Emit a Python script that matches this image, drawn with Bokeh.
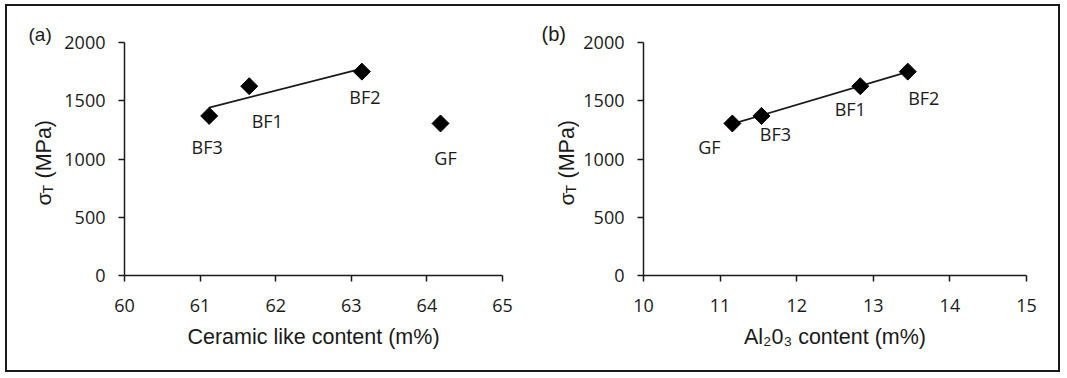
import numpy as np
from bokeh.plotting import figure
from bokeh.layouts import row
from bokeh.models import Range1d, FixedTicker, ColumnDataSource, Title
from bokeh.core.properties import value
from bokeh.embed import file_html
from bokeh.resources import INLINE

# ---- data ----
fibers = ["BF1", "BF2", "BF3", "GF"]
strength = [1625, 1750, 1370, 1305]          # sigma_T (MPa)
ceramic = [61.65, 63.14, 61.12, 64.18]       # ceramic like content (m%)
al2o3 = [12.83, 13.45, 11.54, 11.16]         # Al2O3 content (m%)

x1_ticks = [60, 61, 62, 63, 64, 65]
x2_ticks = [10, 11, 12, 13, 14, 15]
y_ticks = [0, 500, 1000, 1500, 2000]

# label offsets (screen px) — styling only
off1_x = [18, 3, -2, 5]
off1_y = [35, 25, 31, 35]
off2_x = [-10, 16, 14, -23]
off2_y = [23, 26, 18, 24]

TICK_FONT = "Open Sans"
TITLE_FONT = "Liberation Sans"
INK = "#1a1a1a"
H = 364
MBT = 36
MBB = 95
FH = H - MBT - MBB   # frame height in px


def make_panel(xvals, xticks, xlabel, offx, offy, fit_mask, width, mbl, mbr):
    p = figure(width=width, height=H, output_backend="svg", toolbar_location=None,
               x_range=Range1d(xticks[0], xticks[-1]), y_range=Range1d(0, 2000),
               min_border_left=mbl, min_border_right=mbr, min_border_top=MBT,
               min_border_bottom=MBB)
    p.outline_line_color = None
    p.grid.visible = False
    p.background_fill_color = "white"
    p.border_fill_color = "white"

    for ax in (p.xaxis[0], p.yaxis[0]):
        ax.axis_line_color = INK
        ax.axis_line_width = 1.5
        ax.major_tick_line_color = INK
        ax.major_tick_line_width = 1.5
        ax.major_tick_in = 0
        ax.major_tick_out = 6
        ax.minor_tick_line_color = None
        ax.major_label_text_font = TICK_FONT
        ax.major_label_text_font_size = "18px"
        ax.major_label_text_color = INK
    p.xaxis.ticker = FixedTicker(ticks=xticks)
    p.yaxis.ticker = FixedTicker(ticks=y_ticks)
    p.xaxis.major_label_standoff = 17
    p.yaxis.major_label_standoff = 13
    p.xaxis.axis_label = xlabel
    p.xaxis.axis_label_text_font = TITLE_FONT
    p.xaxis.axis_label_text_font_size = "21.5px"
    p.xaxis.axis_label_text_font_style = "normal"
    p.xaxis.axis_label_text_color = INK
    p.xaxis.axis_label_standoff = 10

    # trend line (least-squares fit over the selected fibres)
    fx = np.array([xvals[i] for i in range(len(fibers)) if fit_mask[i]])
    fy = np.array([strength[i] for i in range(len(fibers)) if fit_mask[i]])
    k, b = np.polyfit(fx, fy, 1)
    lx = np.array([fx.min(), fx.max()])
    p.line(lx, k * lx + b, line_color=INK, line_width=1.8)

    src = ColumnDataSource(dict(x=xvals, y=strength, t=fibers, ox=offx, oy=offy))
    p.scatter("x", "y", source=src, marker="square", size=12, angle=np.pi / 4,
              fill_color="black", line_color="black")
    p.text("x", "y", text="t", source=src, x_offset="ox", y_offset="oy",
           text_align="center", text_baseline="middle",
           text_font=value(TICK_FONT), text_font_size="18px", text_color=INK)
    return p


def make_strip(width, tag, tag_off, tag_size, ylab_x):
    """Narrow, axis-less figure holding the panel tag (as its title) and the y-axis title."""
    s = figure(width=width, height=H, output_backend="svg", toolbar_location=None,
               x_range=Range1d(0, width), y_range=Range1d(0, FH),
               x_axis_location=None, y_axis_location=None,
               min_border_left=0, min_border_right=0, min_border_top=MBT,
               min_border_bottom=MBB)
    s.title = Title(text=tag, align="left", offset=tag_off, standoff=-4,
                    text_font=TITLE_FONT, text_font_size=tag_size,
                    text_font_style="normal", text_color=INK)
    s.outline_line_color = None
    s.grid.visible = False
    s.border_fill_color = "white"
    s.background_fill_color = "white"

    def t(x, y_from_frame_bottom, text, size):
        s.text([x], [y_from_frame_bottom], text=[text], angle=np.pi / 2, text_align="left",
               text_baseline="middle", text_font=value(TITLE_FONT),
               text_font_size=size, text_color=INK)

    t(ylab_x, 70, "σ", "21px")
    t(ylab_x + 4, 82, "T", "14px")
    t(ylab_x, 97, "(MPa)", "21.5px")
    return s


s1 = make_strip(54, "(a)", 21, "19px", 36)
p1 = make_panel(ceramic, x1_ticks, "Ceramic like content (m%)", off1_x, off1_y,
                [True, True, True, False], 476, 61, 35)
s2 = make_strip(42, "(b)", 4, "20px", 29)
p2 = make_panel(al2o3, x2_ticks, "Al₂0₃ content (m%)", off2_x, off2_y,
                [True, True, True, True], 479, 64, 32)

layout = row(s1, p1, s2, p2, styles={"border": "2px solid #1a1a1a", "margin": "4px 0 0 5px"})

open("out.html", "w").write(file_html(layout, INLINE))
